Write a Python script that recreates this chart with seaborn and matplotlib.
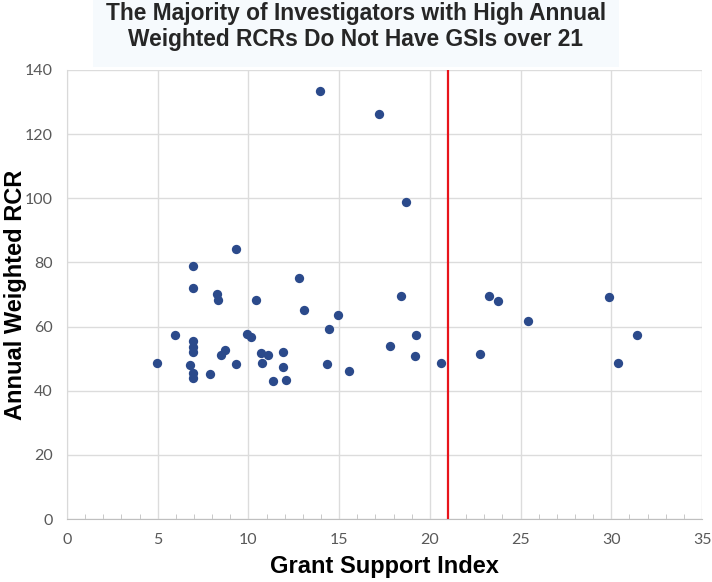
import matplotlib
matplotlib.use("Agg")
import matplotlib.pyplot as plt
import seaborn as sns
import pandas as pd
from matplotlib.ticker import MultipleLocator
from matplotlib.patches import Rectangle

gsi = [13.92, 17.22, 9.30, 6.96, 6.96, 8.28, 8.33, 10.41, 12.81, 13.05,
       14.95, 14.42, 5.94, 6.96, 6.96, 6.96, 8.72, 8.51, 9.90, 10.12,
       10.69, 11.07, 10.74, 11.93, 11.93, 11.35, 12.08, 4.95, 6.76, 6.96,
       6.96, 7.87, 9.30, 14.31, 15.53, 17.79, 18.67, 18.43, 19.26, 19.20,
       20.61, 22.76, 23.26, 23.75, 25.40, 29.90, 31.42, 30.39]
rcr = [133.3, 126.2, 84.3, 78.8, 71.9, 70.0, 68.3, 68.3, 75.2, 65.3,
       63.6, 59.1, 57.5, 55.5, 53.7, 52.1, 52.8, 51.1, 57.6, 56.6,
       51.9, 51.1, 48.6, 52.2, 47.3, 43.0, 43.3, 48.6, 48.0, 45.4,
       44.1, 45.3, 48.4, 48.3, 46.1, 53.9, 98.7, 69.4, 57.5, 50.8,
       48.6, 51.6, 69.4, 68.1, 61.6, 69.1, 57.5, 48.6]
threshold = 21
title = "The Majority of Investigators with High Annual\nWeighted RCRs Do Not Have GSIs over 21"
xlabel = "Grant Support Index"
ylabel = "Annual Weighted RCR"

df = pd.DataFrame({"gsi": gsi, "rcr": rcr})

sns.set_style("white")
plt.rcParams['font.family'] = ['Liberation Sans', 'DejaVu Sans']

fig = plt.figure(figsize=(7.12, 5.82), dpi=100)
# faint title background band
fig.patches.append(Rectangle((0.13, 0.885), 0.74, 0.115, transform=fig.transFigure,
                             facecolor="#F6FAFD", edgecolor="none", zorder=0))
ax = fig.add_axes([0.094, 0.108, 0.892, 0.772])

sns.scatterplot(data=df, x="gsi", y="rcr", ax=ax, color="#2B4A8B", s=45,
                edgecolor="#2B4A8B", linewidth=0, zorder=3)
ax.axvline(threshold, color="#E8141B", lw=1.6, zorder=4)

ax.set_xlim(0, 35)
ax.set_ylim(0, 140)
ax.xaxis.set_major_locator(MultipleLocator(5))
ax.xaxis.set_minor_locator(MultipleLocator(1))
ax.yaxis.set_major_locator(MultipleLocator(20))
ax.grid(True, which="major", color="#DCDCDC", lw=1.0, zorder=0)
ax.set_axisbelow(True)

for side in ["top", "right"]:
    ax.spines[side].set_visible(False)
ax.spines["left"].set_color("#D9D9D9")
ax.spines["bottom"].set_color("#BFBFBF")

ax.tick_params(axis="both", which="major", labelsize=11.5, labelcolor="#595959",
               length=0, pad=10)
ax.tick_params(axis="x", which="minor", direction="in", length=3.5, color="#BFBFBF",
               bottom=True)
for lbl in ax.get_xticklabels() + ax.get_yticklabels():
    lbl.set_family(['Lato', 'Liberation Sans', 'DejaVu Sans'])

ax.set_xlabel(xlabel, fontsize=17, fontweight="bold", color="black")
ax.set_ylabel(ylabel, fontsize=17, fontweight="bold", color="black")
ax.xaxis.set_label_coords(0.5, -0.08)
ax.yaxis.set_label_coords(-0.063, 0.5)

fig.text(0.5, 0.954, title, ha="center", va="center", fontsize=16.4,
         fontweight="bold", linespacing=1.15)

fig.savefig("out.png", dpi=100)
